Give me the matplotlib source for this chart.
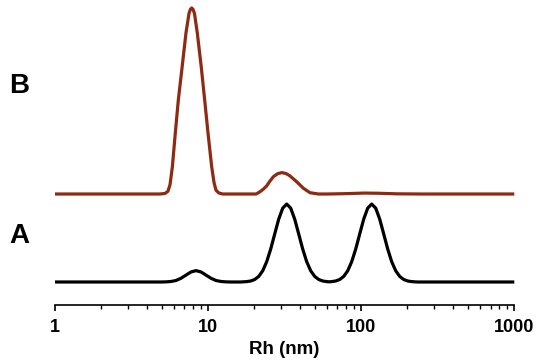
import matplotlib
matplotlib.use("Agg")
import matplotlib.pyplot as plt
from matplotlib.ticker import LogLocator, NullFormatter, FixedLocator

# ---- data (intensity in % of the tallest peak) ----
rh_a = [1, 4.92, 5.31, 5.72, 6.17, 6.65, 7.17, 7.73, 8.34, 8.99, 9.69, 10.45, 11.26, 12.14, 13.09, 14.11,
        16.33, 17.87, 18.98, 20.16, 21.41, 22.73, 24.14, 25.64, 27.23, 28.92, 30.72, 32.62,
        34.64, 36.78, 39.07, 41.49, 44.06, 46.80, 49.70, 52.77, 56.04, 59.52, 61.8,
        64.17, 68.16, 72.39, 76.88, 81.62, 86.69, 92.07, 97.78, 103.85, 110.3, 117.1,
        124.4, 132.1, 140.3, 149.0, 158.2, 168.1, 178.5, 189.5, 201.2, 213.7, 233.9, 1000]
int_a = [0, 0, 0.07, 0.27, 0.8, 2.0, 3.7, 5.4, 6.1, 5.4, 3.7, 2.0, 0.8, 0.27, 0.07, 0,
         0, 0.2, 0.54, 1.34, 3.0, 6.0, 10.9, 17.7, 25.8, 33.8, 39.7, 41.9,
         39.7, 33.8, 25.8, 17.7, 10.9, 6.0, 3.0, 1.34, 0.54, 0.2, 0.1,
         0.2, 0.54, 1.34, 3.0, 6.0, 10.9, 17.7, 25.8, 33.8, 39.7, 41.9,
         39.7, 33.8, 25.8, 17.7, 10.9, 6.0, 3.0, 1.34, 0.54, 0.2, 0, 0]

rh_b = [1, 4.85, 5.23, 5.47, 5.64, 5.84, 6.11, 6.39, 6.76, 7.17, 7.50, 7.66, 7.81, 7.97, 8.15, 8.50, 9.03,
        9.50, 9.98, 10.56, 10.94, 11.27, 11.78, 12.51,
        20.6, 21.8, 22.94, 24.1, 25.37, 26.7, 28.4, 30.3, 32.3, 34.3, 37.9, 41.9, 46.3, 52.5,
        60, 80, 105, 130, 170, 250, 1000]
int_b = [0, 0, 0.3, 1.5, 5, 14.5, 33, 50.5, 68, 86.6, 97, 99.3, 100, 99.3, 97, 86.6, 68,
         50.5, 33, 14.5, 6, 2, 0.5, 0,
         0, 1.2, 2.6, 4.3, 7.0, 9.3, 10.9, 11.5, 11.0, 9.7, 6.6, 3.1, 0.7, 0,
         0, 0.2, 0.5, 0.4, 0.1, 0, 0]

x_ticks = [1, 10, 100, 1000]
x_ticklabels = ["1", "10", "100", "1000"]
b_offset = 47.3

FONT = "Liberation Sans"

fig = plt.figure(figsize=(5.5, 3.64), dpi=100)
ax = fig.add_axes([55 / 550, 59 / 364, 459.3 / 550, 305 / 364])

ax.plot(rh_a, int_a, color="black", lw=2.3, solid_capstyle="butt",
        solid_joinstyle="round", clip_on=False)
ax.plot(rh_b, [v + b_offset for v in int_b], color="#8E2A12", lw=2.3,
        solid_capstyle="butt", solid_joinstyle="round", clip_on=False)

ax.set_xscale("log")
ax.set_xlim(1, 1000)
ax.set_ylim(-12.37, 151.6)

for s in ["top", "right", "left"]:
    ax.spines[s].set_visible(False)
ax.spines["bottom"].set_linewidth(1.2)
ax.set_yticks([])

ax.xaxis.set_major_locator(FixedLocator(x_ticks))
ax.set_xticklabels(x_ticklabels)
ax.xaxis.set_minor_locator(LogLocator(base=10, subs=range(2, 10)))
ax.xaxis.set_minor_formatter(NullFormatter())
ax.tick_params(axis="x", which="major", direction="out", length=4, width=1.2, pad=6)
ax.tick_params(axis="x", which="minor", direction="out", length=3, width=1.0)
for lab in ax.get_xticklabels():
    lab.set_fontfamily(FONT)
    lab.set_fontweight("bold")
    lab.set_fontsize(13)

ax.set_xlabel("Rh (nm)", fontfamily=FONT, fontweight="bold", fontsize=13.5, labelpad=4)

fig.text(9 / 550, 1 - 86 / 364, "B", fontfamily=FONT, fontweight="bold", fontsize=20,
         ha="left", va="center")
fig.text(9 / 550, 1 - 236 / 364, "A", fontfamily=FONT, fontweight="bold", fontsize=20,
         ha="left", va="center")

fig.savefig("out.png", dpi=100)
